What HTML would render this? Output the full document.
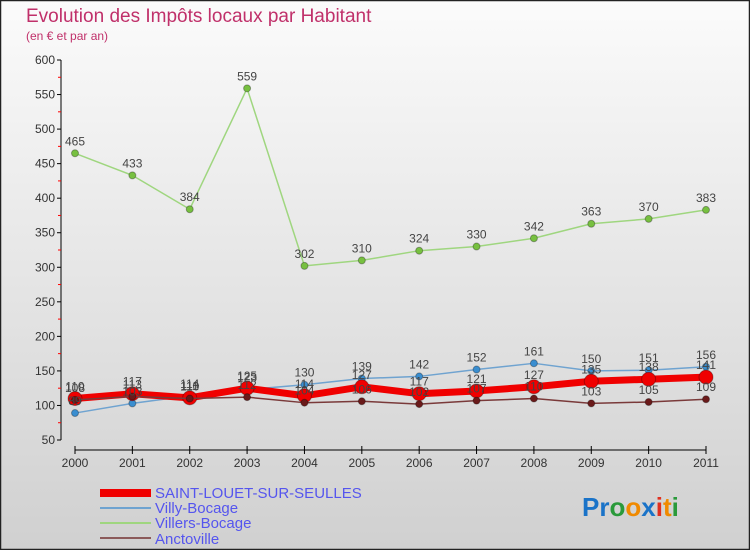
<!DOCTYPE html>
<html><head><meta charset="utf-8"><style>
body{margin:0;width:750px;height:550px;overflow:hidden;font-family:"Liberation Sans",sans-serif}
svg text{font-family:"Liberation Sans",sans-serif}
</style></head><body>
<svg width="750" height="550">
<defs><linearGradient id="bg" x1="0" y1="0" x2="0" y2="1"><stop offset="0" stop-color="#fbfbfb"/><stop offset="1" stop-color="#d0d0d0"/></linearGradient></defs>
<rect x="0" y="0" width="750" height="550" fill="url(#bg)"/>
<rect x="0.5" y="0.5" width="749" height="549" fill="none" stroke="#222" stroke-width="1.5"/>
<text x="26" y="22" font-size="19" fill="#c0306a">Evolution des Impôts locaux par Habitant</text>
<text x="26" y="40" font-size="12" fill="#c0306a">(en € et par an)</text>
<g id="axes"></g><g id="series"></g><g id="labels"></g>
<g>
<rect x="100" y="489" width="51" height="8" fill="#f00000"/>
<text x="155" y="498" font-size="15" fill="#5555ee">SAINT-LOUET-SUR-SEULLES</text>
<rect x="100" y="507" width="51" height="2" fill="#6fa3d0"/>
<text x="155" y="513" font-size="15" fill="#5555ee">Villy-Bocage</text>
<rect x="100" y="522" width="51" height="2" fill="#9fd67f"/>
<text x="155" y="528" font-size="15" fill="#5555ee">Villers-Bocage</text>
<rect x="100" y="537" width="51" height="2" fill="#8b5a5a"/>
<text x="155" y="544" font-size="15" fill="#5555ee">Anctoville</text>
</g>
<g font-size="26" font-weight="bold">
<text x="582" y="516"><tspan fill="#1a73c8">Pr</tspan><tspan fill="#2a9a3a">o</tspan><tspan fill="#f08a00">o</tspan><tspan fill="#1a73c8">x</tspan><tspan fill="#e03020">i</tspan><tspan fill="#f08a00">t</tspan><tspan fill="#2a9a3a">i</tspan></text>
</g>
</svg>
<script>
const years=["2000","2001","2002","2003","2004","2005","2006","2007","2008","2009","2010","2011"];
const yTicks=[50,100,150,200,250,300,350,400,450,500,550,600];
const saintLouet=[110,117,111,125,114,127,117,121,127,135,138,141];
const villyBocage=[89,103,114,123,130,139,142,152,161,150,151,156];
const villersBocage=[465,433,384,559,302,310,324,330,342,363,370,383];
const anctoville=[108,113,110,112,104,106,102,107,110,103,105,109];
const NS="http://www.w3.org/2000/svg";
const x=i=>75+i*(706-75)/11;
const y=v=>440-(v-50)*(380/550);
function mk(t,a,p){const e=document.createElementNS(NS,t);for(const k in a)e.setAttribute(k,a[k]);p.appendChild(e);return e;}
const ax=document.getElementById('axes');
mk('line',{x1:61,y1:60,x2:61,y2:440,stroke:'#000'},ax);
mk('line',{x1:75,y1:450,x2:706,y2:450,stroke:'#000'},ax);
yTicks.forEach(v=>{mk('line',{x1:57,y1:y(v),x2:61,y2:y(v),stroke:'#000'},ax);
 if(v<600)mk('line',{x1:58,y1:y(v+25),x2:61,y2:y(v+25),stroke:'#f00'},ax);
 const t=mk('text',{x:55,y:y(v)+4,'text-anchor':'end','font-size':12,fill:'#333'},ax);t.textContent=v;
 
 });
years.forEach((yr,i)=>{mk('line',{x1:x(i),y1:446,x2:x(i),y2:454,stroke:'#000'},ax);
 const t=mk('text',{x:x(i),y:467,'text-anchor':'middle','font-size':12,fill:'#333'},ax);t.textContent=yr;
 
 });
const sg=document.getElementById('series'),lg=document.getElementById('labels');
function draw(data,name,color,w,r,dot){
 const g=mk('g',{},sg);
 
 
 mk('polyline',{points:data.map((v,i)=>x(i)+','+y(v)).join(' '),fill:'none',stroke:color,'stroke-width':w,'stroke-linejoin':'round'},g);
 data.forEach((v,i)=>{const c=mk('circle',{cx:x(i),cy:y(v),r:r,fill:dot,stroke:'rgba(0,0,0,0.3)'},g);
  
  
  const t=mk('text',{x:x(i),y:y(v)-8,'text-anchor':'middle','font-size':12,fill:'#444'},lg);t.textContent=v;
  
  });
}
draw(villersBocage,'villers-bocage-series','#9fd67f',1.5,3.5,'#77c040');
draw(villyBocage,'villy-bocage-series','#6fa3d0',1.5,3.5,'#3a8ed0');
draw(saintLouet,'saint-louet-series','#f00000',7,7,'#f00000');
draw(anctoville,'anctoville-series','#7a3a3a',1.5,3.5,'#6a1a1a');
</script>
</body></html>
